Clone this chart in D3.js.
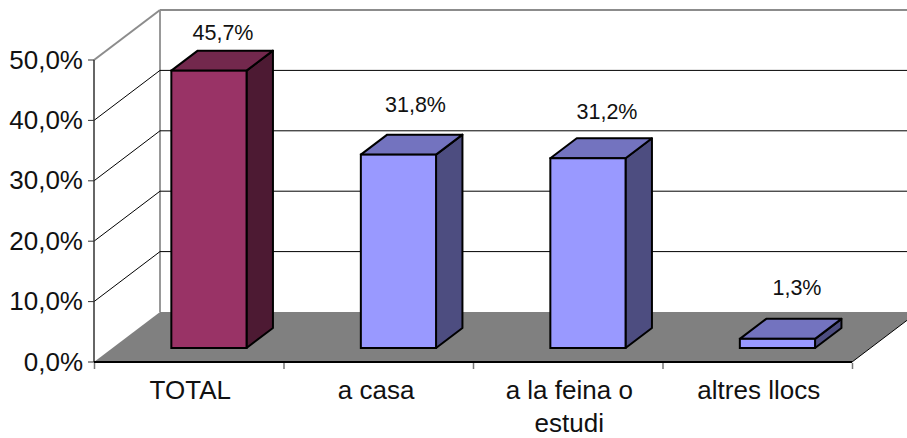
<!DOCTYPE html>
<html><head><meta charset="utf-8">
<script src="https://cdn.jsdelivr.net/npm/d3@7"></script>
<style>html,body{margin:0;padding:0;background:#fff}svg{display:block}text{font-family:"Liberation Sans",Arial,sans-serif;fill:#111;white-space:pre}</style>
</head><body><svg id="c" width="907" height="438"></svg>
<script>
const categories = ["TOTAL", "a casa ", "a la feina o|estudi", "altres llocs"];
const values = [45.7, 31.8, 31.2, 1.3];
const valueLabels = ["45,7%", "31,8%", "31,2%", "1,3%"];
const yTicks = [0, 10, 20, 30, 40, 50];
const fmt = d => d.toFixed(1).replace(".", ",") + "%";

const svg = d3.select("#c");
const y = d3.scaleLinear().domain([0, 50]).range([362, 60]);
const x = d3.scaleBand().domain(categories).range([94, 852]);
const DX = 66, DY = -50;
const depthStart = 0.29, depthEnd = 0.69;
const barW = 75.2, barOff = 40;

const line = (a, b, c, d, col, w) => svg.append("line")
  .attr("x1", a).attr("y1", b).attr("x2", c).attr("y2", d)
  .attr("stroke", col).attr("stroke-width", w);
const poly = (pts, fill, sw = 2) => svg.append("polygon")
  .attr("points", pts.map(p => p.join(",")).join(" "))
  .attr("fill", fill).attr("stroke", "#000").attr("stroke-width", sw)
  .attr("stroke-linejoin", "round");

svg.append("polygon")
  .attr("points", [[94, 362], [852, 362], [852 + DX, 362 + DY], [94 + DX, 362 + DY]].map(p => p.join(",")).join(" "))
  .attr("fill", "#808080");

line(94 + DX, y(50) + DY, 94 + DX, 362 + DY, "#999", 2);
line(94, y(50), 94 + DX, y(50) + DY, "#8c8c8c", 2);
line(94 + DX, y(50) + DY, 907, y(50) + DY, "#8c8c8c", 2);
yTicks.filter(t => t > 0 && t < 50).forEach(t => {
  line(94, y(t), 94 + DX, y(t) + DY, "#000", 1);
  line(94 + DX, y(t) + DY, 907, y(t) + DY, "#000", 1);
});
line(852, 362, 852 + DX, 362 + DY, "#000", 1);

line(94, y(50), 94, 362, "#333", 1.5);
line(94, 362, 852, 362, "#000", 2);
yTicks.forEach(t => {
  line(88, y(t), 94, y(t), "#333", 1);
  svg.append("text").attr("x", 83).attr("y", y(t) + 8.5)
    .attr("text-anchor", "end").attr("font-size", 26).text(fmt(t));
});
[...categories.map(c => x(c)), 852].forEach(p => line(p + 0.5, 363, p + 0.5, 369, "#777", 1.5));

const colors = i => i === 0
  ? { front: "#993366", side: "#4d1a33", top: "#73284d" }
  : { front: "#9999ff", side: "#4d4d80", top: "#7373bf" };
const dx0 = DX * depthStart, dy0 = DY * depthStart;
const dbx = DX * (depthEnd - depthStart), dby = DY * (depthEnd - depthStart);

values.forEach((v, i) => {
  const c = colors(i);
  const xl = x(categories[i]) + barOff + dx0 + 18.2, xr = xl + barW;
  const yb = y(0) + dy0 + 0.5, yt = y(v) + dy0 - 0.8;
  poly([[xr, yt], [xr + dbx, yt + dby], [xr + dbx, yb + dby], [xr, yb]], c.side);
  poly([[xl, yt], [xl + dbx, yt + dby], [xr + dbx, yt + dby], [xr, yt]], c.top);
  svg.append("rect").attr("x", xl).attr("y", yt).attr("width", barW).attr("height", yb - yt)
    .attr("fill", c.front).attr("stroke", "#000").attr("stroke-width", 2);
});

const labelPos = [[223, 40], [415.5, 111.5], [607, 119], [797, 295]];
valueLabels.forEach((t, i) => svg.append("text")
  .attr("x", labelPos[i][0]).attr("y", labelPos[i][1])
  .attr("text-anchor", "middle").attr("font-size", 21.5).text(t));

categories.forEach((c, i) => {
  const cx = x(c) + x.bandwidth() / 2 + 1.5;
  c.split("|").forEach((ln, k) => svg.append("text")
    .attr("x", cx).attr("y", 399 + k * 33)
    .attr("text-anchor", "middle").attr("font-size", 26).text(ln));
});
</script></body></html>
